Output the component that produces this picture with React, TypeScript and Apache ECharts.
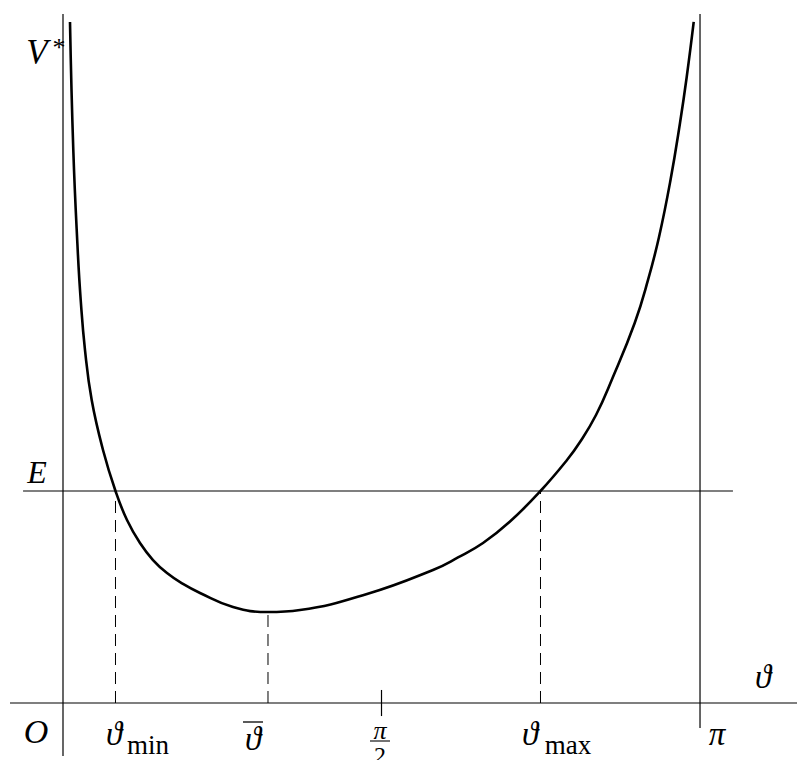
import React, { useEffect, useRef } from "react";
import * as echarts from "echarts";

// Potential curve V*(ϑ) on 0 < ϑ < π, energy level E and turning points
const ENERGY = 2.0;
const THETA_MIN = 0.2589;
const THETA_BAR = 1.011;
const THETA_MAX = 2.3549;
const V_BAR = 0.858;
const PI = Math.PI;

const curveTheta = [
  0.0345, 0.0508, 0.0725, 0.0873, 0.1085, 0.1415, 0.1973, THETA_MIN, 0.3156,
  0.3797, 0.4439, 0.5129, 0.5918, 0.6757, 0.8384, THETA_BAR, 1.1688, 1.4993,
  1.8248, 1.9481, 2.0714, 2.2045, THETA_MAX, 2.4856, 2.5497, 2.6287, 2.7061,
  2.8195, 2.8852, 2.9394, 2.9961, 3.0429, 3.076, 3.1105,
];
const curveV = [
  6.425, 5.217, 4.274, 3.802, 3.33, 2.858, 2.387, ENERGY, 1.726,
  1.509, 1.349, 1.226, 1.123, 1.038, 0.906, V_BAR, 0.877, 1.028,
  1.255, 1.373, 1.509, 1.712, ENERGY, 2.292, 2.462, 2.717, 3.047,
  3.585, 3.991, 4.396, 4.934, 5.472, 5.906, 6.425,
];

// frame lines (axis, walls at 0 and π, energy level)
const axisSpan = [-0.2614, 3.62];
const energySpan = [-0.197, 3.304];
const leftWallSpan = [-0.5, 6.5];
const rightWallSpan = [-0.236, 6.5];
const tickSpan = [-0.123, 0.123];

// view window
const X_RANGE = [-0.3107, 3.6199];
const Y_RANGE = [-0.5377, 6.6321];

const serif = "'Liberation Serif', 'DejaVu Serif', serif";

export default function App() {
  const ref = useRef<HTMLDivElement>(null);

  useEffect(() => {
    if (!ref.current) return;
    const chart = echarts.init(ref.current, undefined, { renderer: "svg" });

    const thin = { color: "#000", width: 1.2 };
    const dashed = { color: "#000", width: 1, type: [12, 7] as any };
    const seg = (pts: number[][], style: any, name: string) => ({
      type: "line",
      name,
      data: pts,
      showSymbol: false,
      symbol: "none",
      lineStyle: style,
      silent: true,
      z: 1,
    });

    const italic = (text: string, x: number, y: number, size: number) => ({
      type: "text",
      x,
      y,
      style: {
        text,
        fontFamily: serif,
        fontStyle: "italic",
        fontSize: size,
        fill: "#000",
        align: "center",
        verticalAlign: "middle",
      },
    });
    const upright = (text: string, x: number, y: number, size: number) => ({
      type: "text",
      x,
      y,
      style: {
        text,
        fontFamily: serif,
        fontSize: size,
        fill: "#000",
        align: "center",
        verticalAlign: "middle",
      },
    });

    chart.setOption({
      animation: false,
      grid: { left: 0, right: 0, top: 0, bottom: 0 },
      xAxis: { type: "value", min: X_RANGE[0], max: X_RANGE[1], show: false },
      yAxis: { type: "value", min: Y_RANGE[0], max: Y_RANGE[1], show: false },
      series: [
        seg([[axisSpan[0], 0], [axisSpan[1], 0]], thin, "axis"),
        seg([[0, leftWallSpan[0]], [0, leftWallSpan[1]]], thin, "wall0"),
        seg([[PI, rightWallSpan[0]], [PI, rightWallSpan[1]]], thin, "wallPi"),
        seg([[energySpan[0], ENERGY], [energySpan[1], ENERGY]], thin, "E"),
        seg([[PI / 2, tickSpan[0]], [PI / 2, tickSpan[1]]], thin, "tick"),
        seg([[THETA_MIN, 0], [THETA_MIN, ENERGY]], dashed, "thetaMin"),
        seg([[THETA_BAR, 0], [THETA_BAR, V_BAR]], dashed, "thetaBar"),
        seg([[THETA_MAX, 0], [THETA_MAX, ENERGY]], dashed, "thetaMax"),
        {
          type: "line",
          name: "V*",
          data: curveTheta.map((t, i) => [t, curveV[i]]),
          showSymbol: false,
          symbol: "none",
          smooth: 0.45,
          lineStyle: { color: "#000", width: 2.6 },
          silent: true,
          z: 3,
        },
      ],
      graphic: [
        italic("V", 37, 52, 35),
        upright("*", 59, 47, 26),
        italic("E", 37, 472, 32),
        italic("O", 36, 731, 34),
        italic("ϑ", 114, 734, 33),
        upright("min", 148, 745, 27),
        italic("ϑ", 253, 739, 33),
        { type: "line", shape: { x1: 243, y1: 722, x2: 263, y2: 722 }, style: { stroke: "#000", lineWidth: 1.3 } },
        italic("π", 380, 730, 26),
        { type: "line", shape: { x1: 370, y1: 741, x2: 390, y2: 741 }, style: { stroke: "#000", lineWidth: 1.1 } },
        upright("2", 380, 755, 24),
        italic("ϑ", 530, 734, 33),
        upright("max", 568, 745, 27),
        italic("π", 717, 734, 33),
        italic("ϑ", 763, 677, 33),
      ],
    });

    return () => chart.dispose();
  }, []);

  return (
    <div
      ref={ref}
      style={{ position: "absolute", left: 0, top: 0, width: 797, height: 760 }}
    />
  );
}
